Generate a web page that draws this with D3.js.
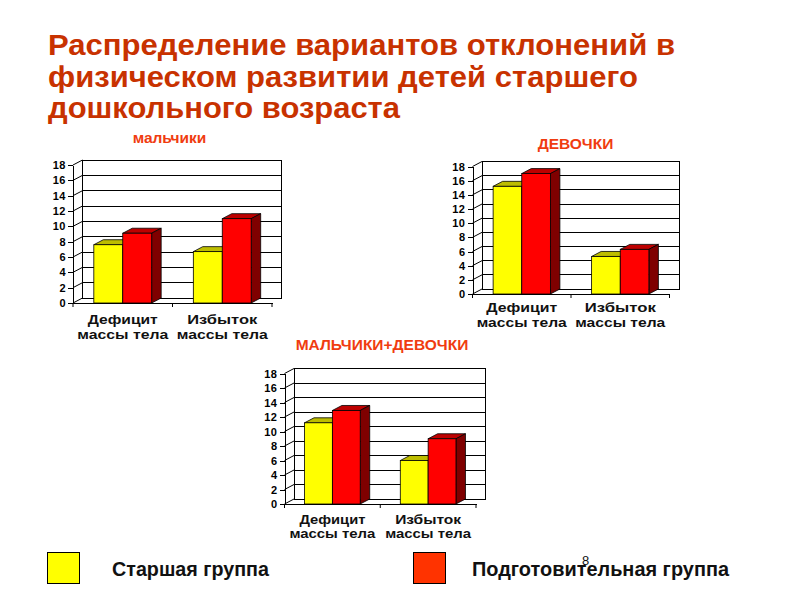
<!DOCTYPE html>
<html>
<head>
<meta charset="utf-8">
<style>
body { margin: 0; background: #fff; font-family: "Liberation Sans", Arial, sans-serif; }
svg { display: block; }
.axis text { font: bold 11px "Liberation Sans", Arial, sans-serif; fill: #000; letter-spacing: 0.5px; }
.axis line, .axis path { stroke: #000; stroke-width: 1px; shape-rendering: crispEdges; }
.cat { font: bold 13px "Liberation Sans", Arial, sans-serif; fill: #111; text-anchor: middle; }
.sub { font: bold 15.5px "Liberation Sans", Arial, sans-serif; fill: #f03c10; text-anchor: middle; }
.title { font: bold 29px "Liberation Sans", Arial, sans-serif; fill: #c83200; }
.legend { font: bold 20px "Liberation Sans", Arial, sans-serif; fill: #111; }
</style>
</head>
<body>
<div id="chart"></div>
<script src="https://d3js.org/d3.v7.min.js"></script>
<script>
var titleLines = ["Распределение вариантов отклонений в", "физическом развитии детей старшего", "дошкольного возраста"];
var categories = ["Дефицит|массы тела", "Избыток|массы тела"];
var seriesNames = ["Старшая группа", "Подготовительная группа"];
var yTicks = [0, 2, 4, 6, 8, 10, 12, 14, 16, 18];

var boysOlder = [7.6, 6.7];
var boysPrep = [9.1, 11.0];
var girlsOlder = [15.2, 5.3];
var girlsPrep = [17.0, 6.3];
var allOlder = [11.2, 6.0];
var allPrep = [12.9, 9.0];

var svg = d3.select("#chart").append("svg")
  .attr("width", 800)
  .attr("height", 600);

// title, stretched to the width each line has in the picture
var titleWidths = [627, 590, 352];
svg.selectAll(".title")
  .data(titleLines)
  .enter()
  .append("text")
    .attr("class", "title")
    .attr("x", 48)
    .attr("y", function(d, i) { return 55 + i * 31.5; })
    .attr("textLength", function(d, i) { return titleWidths[i]; })
    .attr("lengthAdjust", "spacingAndGlyphs")
    .text(function(d) { return d; });

// colours: front, top, side
var colors = [
  { front: "#ffff00", top: "#bdbd00", side: "#7f7f00" },
  { front: "#ff0000", top: "#bd0000", side: "#7f0000" }
];

function drawChart(opts, older, prep) {
  var depthX = 9.5, depthY = 5;

  var x = d3.scaleBand().domain(categories).range([opts.x0, opts.x1]);
  var xInner = d3.scaleBand().domain([0, 1]).range([0, x.bandwidth()]).paddingOuter(0.72).paddingInner(0);
  var y = d3.scaleLinear().domain([0, 18]).range([opts.y0, opts.y18]);

  var g = svg.append("g");

  // back wall with gridlines
  g.append("rect")
    .attr("x", opts.x0 + depthX)
    .attr("y", y(18) - depthY)
    .attr("width", opts.x1 - opts.x0)
    .attr("height", y(0) - y(18))
    .attr("fill", "#fff")
    .attr("stroke", "#000")
    .attr("shape-rendering", "crispEdges");

  yTicks.forEach(function(t) {
    g.append("line")
      .attr("x1", opts.x0 + depthX)
      .attr("x2", opts.x1 + depthX)
      .attr("y1", y(t) - depthY)
      .attr("y2", y(t) - depthY)
      .attr("stroke", "#000")
      .attr("shape-rendering", "crispEdges");
    // side wall
    g.append("line")
      .attr("x1", opts.x0)
      .attr("x2", opts.x0 + depthX)
      .attr("y1", y(t))
      .attr("y2", y(t) - depthY)
      .attr("stroke", "#000");
  });

  // bars, older group first so the red one sits over its side
  [older, prep].forEach(function(values, s) {
    var c = colors[s];
    var bars = g.append("g").selectAll("g")
      .data(values)
      .enter()
      .append("g");

    function left(i) { return x(categories[i]) + xInner(s); }
    var w = xInner.bandwidth();

    bars.append("path")
      .attr("d", function(d, i) {
        var l = left(i), t = y(d);
        return "M" + l + "," + t + "l" + depthX + "," + (-depthY) + "h" + w + "l" + (-depthX) + "," + depthY + "z";
      })
      .attr("fill", c.top)
      .attr("stroke", "#000")
      .attr("stroke-width", 0.8);

    bars.append("path")
      .attr("d", function(d, i) {
        var r = left(i) + w, t = y(d), b = y(0);
        return "M" + r + "," + t + "l" + depthX + "," + (-depthY) + "V" + (b - depthY) + "l" + (-depthX) + "," + depthY + "z";
      })
      .attr("fill", c.side)
      .attr("stroke", "#000")
      .attr("stroke-width", 0.8);

    bars.append("rect")
      .attr("x", function(d, i) { return left(i); })
      .attr("y", function(d) { return y(d); })
      .attr("width", w)
      .attr("height", function(d) { return y(0) - y(d); })
      .attr("fill", c.front)
      .attr("stroke", "#000")
      .attr("stroke-width", 0.8);
  });

  // axes
  g.append("g")
    .attr("class", "axis")
    .attr("transform", "translate(" + opts.x0 + ",0)")
    .call(d3.axisLeft(y).tickValues(yTicks).tickSize(5).tickSizeOuter(0).tickPadding(2));

  g.append("g")
    .attr("class", "axis")
    .attr("transform", "translate(0," + opts.y0 + ")")
    .call(d3.axisBottom(x).tickValues([]).tickSizeOuter(0));

  [opts.x0, (opts.x0 + opts.x1) / 2, opts.x1].forEach(function(tx) {
    g.append("line")
      .attr("x1", tx).attr("x2", tx)
      .attr("y1", opts.y0).attr("y2", opts.y0 + 4)
      .attr("stroke", "#000");
  });

  // category labels, stretched to the width they have in the picture
  categories.forEach(function(cat) {
    var cx = x(cat) + x.bandwidth() / 2;
    cat.split("|").forEach(function(line, i) {
      g.append("text")
        .attr("class", "cat")
        .attr("x", cx)
        .attr("y", opts.y0 + opts.catY[i])
        .attr("textLength", opts.catW[i])
        .attr("lengthAdjust", "spacingAndGlyphs")
        .text(line);
    });
  });

  // chart heading
  g.append("text")
    .attr("class", "sub")
    .attr("x", opts.titleX)
    .attr("y", opts.titleY)
    .text(opts.title);
}

drawChart({ x0: 73, x1: 272, y0: 303, y18: 165, title: "мальчики", titleX: 169.5, titleY: 143, catY: [21, 36], catW: [70, 91] }, boysOlder, boysPrep);
drawChart({ x0: 472.5, x1: 669.5, y0: 294, y18: 166.5, title: "ДЕВОЧКИ", titleX: 575.5, titleY: 149, catY: [18, 33], catW: [71, 90] }, girlsOlder, girlsPrep);
drawChart({ x0: 284.5, x1: 476, y0: 504, y18: 373.5, title: "МАЛЬЧИКИ+ДЕВОЧКИ", titleX: 382, titleY: 350, catY: [20, 34], catW: [66, 86] }, allOlder, allPrep);

// legend
var legendX = [47, 413];
var legendTextX = [112, 472];
var legendWidths = [157, 257];
var legendFill = ["#ffff00", "#ff3300"];

seriesNames.forEach(function(name, i) {
  svg.append("rect")
    .attr("x", legendX[i] + 0.5)
    .attr("y", 552.5)
    .attr("width", 32)
    .attr("height", 31)
    .attr("fill", legendFill[i])
    .attr("stroke", "#000");
  svg.append("text")
    .attr("class", "legend")
    .attr("x", legendTextX[i])
    .attr("y", 576)
    .attr("textLength", legendWidths[i])
    .attr("lengthAdjust", "spacingAndGlyphs")
    .text(name);
});

// slide number
svg.append("text")
  .attr("x", 585.5)
  .attr("y", 565)
  .attr("text-anchor", "middle")
  .style("font", "13px 'Liberation Sans', Arial, sans-serif")
  .style("fill", "#111")
  .text("8");
</script>
</body>
</html>
